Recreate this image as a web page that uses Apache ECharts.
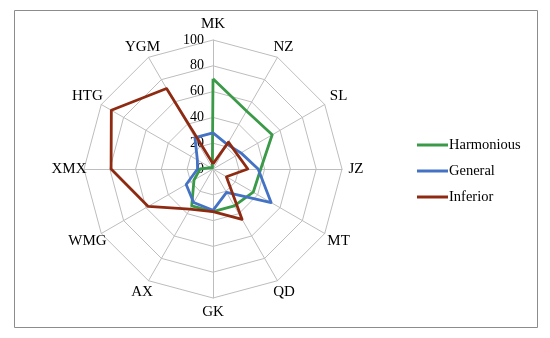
<!DOCTYPE html>
<html><head><meta charset="utf-8">
<script src="https://cdn.jsdelivr.net/npm/echarts@6/dist/echarts.min.js"></script>
<style>html,body{margin:0;padding:0;background:#fff}#c{width:550px;height:338px}</style>
</head><body><div id="c"></div>
<script>
// Categories in clockwise order starting at the top
const categories = ['MK','NZ','SL','JZ','MT','QD','GK','AX','WMG','XMX','HTG','YGM'];
const seriesNames = ['Harmonious','General','Inferior'];
const harmonious = [70, 52, 53, 37, 36, 33, 33, 33, 17, 10, 2, 1];
const general    = [28, 22, 25, 35, 52, 21, 32, 30, 24, 12, 14, 28];
const inferior   = [4, 24, 22, 27, 12, 45, 33, 36, 58, 79, 91, 72];
const tickValues = [0, 20, 40, 60, 80, 100];
const colors = ['#3a9a48', '#4472c4', '#8f2a12'];
// label distance tweaks (gap beyond outer ring), same order as categories
const nameGaps = [16, 12, 16, 14, 16, 13, 14, 13, 16, 15, 16, 12];

// ECharts radar goes counter-clockwise; reorder so labels appear clockwise
const order = [0].concat(categories.map((_, i) => i).slice(1).reverse());
const reorder = arr => order.map(i => arr[i]);

const chart = echarts.init(document.getElementById('c'));
const font = 'Liberation Serif';
const gapsR = reorder(nameGaps);
chart.setOption({
  animation: false,
  textStyle: { fontFamily: font },
  graphic: [{
    type: 'rect', shape: { x: 14.5, y: 10.5, width: 523, height: 317 },
    style: { fill: 'none', stroke: '#8c8c8c', lineWidth: 1 }, silent: true
  }],
  legend: {
    orient: 'vertical', left: 412, top: 132.5, itemGap: 11,
    itemWidth: 31, itemHeight: 3, icon: 'rect',
    textStyle: { fontFamily: font, fontSize: 14.5, lineHeight: 15, color: '#000', padding: [0,0,0,-4] },
    data: seriesNames
  },
  radar: {
    center: [213, 169], radius: 129,
    startAngle: 90,
    min: 0, max: tickValues[tickValues.length-1], splitNumber: tickValues.length - 1,
    indicator: reorder(categories).map((n, i) => ({
      name: n, min: 0, max: 100, nameGap: gapsR[i],
      axisLabel: i === 0 ? { show: true } : undefined
    })),
    nameGap: 14,
    axisName: { color: '#000', fontFamily: font, fontSize: 15, align: 'center', verticalAlign: 'middle' },
    axisLine: { lineStyle: { color: '#bdbdbd', width: 1 } },
    splitLine: { lineStyle: { color: '#bdbdbd', width: 1 } },
    splitArea: { show: false },
    axisTick: { show: false },
    axisLabel: { show: false, color: '#000', fontFamily: font, fontSize: 14, margin: 9 }
  },
  series: [{
    type: 'radar', symbol: 'none',
    data: [
      { name: seriesNames[0], value: reorder(harmonious), lineStyle: { color: colors[0], width: 2.8 }, itemStyle: { color: colors[0] } },
      { name: seriesNames[1], value: reorder(general), lineStyle: { color: colors[1], width: 2.8 }, itemStyle: { color: colors[1] } },
      { name: seriesNames[2], value: reorder(inferior), lineStyle: { color: colors[2], width: 2.8 }, itemStyle: { color: colors[2] } }
    ]
  }]
});
</script></body></html>
